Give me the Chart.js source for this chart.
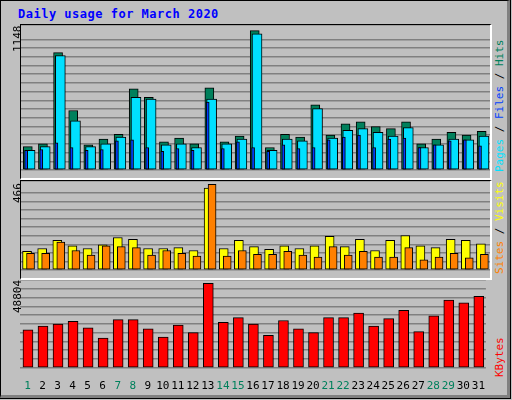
<!DOCTYPE html>
<html>
<head>
<meta charset="utf-8">
<script src="https://cdn.jsdelivr.net/npm/chart.js@4.4.1/dist/chart.umd.min.js"></script>
<style>
  body { margin: 0; width: 512px; height: 400px; background: #c0c0c0; position: relative; overflow: hidden; font-family: "DejaVu Sans Mono", monospace; }
  #frame { position: absolute; left: 0; top: 0; width: 506px; height: 394px; border: 1px solid #000; border-right: 3px solid #808080; border-bottom: 3px solid #808080; outline: 1px solid #000; }
  .panel { position: absolute; left: 20px; width: 469px; border-top: 1px solid #000; border-left: 1px solid #000; border-right: 2px solid #fff; border-bottom: 2px solid #fff; }
  .panel canvas { display: block; }
  .rot { position: absolute; transform: rotate(-90deg); transform-origin: left top; white-space: nowrap; font-size: 11px; }
  #title { position: absolute; left: 18px; top: 7px; color: #0000ff; font-weight: bold; font-size: 12px; letter-spacing: 0.5px; }
</style>
</head>
<body>
<div id="frame"></div>
<div id="title">Daily usage for March 2020</div>

<div class="panel" style="top:24px;height:153px"><canvas id="c1" width="469" height="153"></canvas></div>
<div class="panel" style="top:180px;height:97px"><canvas id="c2" width="469" height="97"></canvas></div>
<div class="panel" style="top:280px;height:117px;border:none"><canvas id="c3" width="469" height="117"></canvas></div>

<div class="rot" style="left:11px;top:52px">1148</div>
<div class="rot" style="left:11px;top:203px">466</div>
<div class="rot" style="left:11px;top:313px">48804</div>
<div class="rot" style="left:493px;top:172px"><span style="color:#00e0ff">Pages</span> / <span style="color:#0040ff">Files</span> / <span style="color:#00805c">Hits</span></div>
<div class="rot" style="left:493px;top:274px"><span style="color:#ff8000">Sites</span> / <span style="color:#ffff00">Visits</span></div>
<div class="rot" style="left:493px;top:377px"><span style="color:#ff0000">KBytes</span></div>

<script>
// valores
const dias = Array.from({length: 31}, (_, k) => k + 1);
const fimDeSemana = [1, 7, 8, 14, 15, 21, 22, 28, 29];

const hits  = [193,216,966,490,208,255,294,669,599,232,263,216,677,232,279,1148,185,294,271,536,287,380,396,357,341,396,216,255,310,287,318];
const files = [162,193,943,404,193,216,271,599,583,208,216,185,583,216,255,1122,162,255,240,505,263,326,341,310,279,349,185,208,255,248,279];
const pages = [162,169,224,185,162,169,240,248,185,154,177,162,560,177,232,185,154,208,177,185,248,271,287,185,255,263,185,208,240,248,200];

const visits = [101,117,162,132,117,137,177,167,117,117,122,106,446,117,162,127,112,132,117,132,183,127,167,106,162,188,132,122,167,162,142];
const sites  = [91,91,152,106,81,132,127,122,81,106,91,76,466,76,106,86,86,101,81,71,127,81,101,71,71,122,56,71,91,66,86];

const kbytes = [21990,24140,25210,26820,23060,17160,27890,27890,22530,17700,24670,20380,48804,26280,28960,25210,18770,27350,22530,20380,28960,28960,31640,24140,28430,33250,20920,30030,39150,37540,41300];

const maxTopo = 1148, maxMeio = 466, maxKb = 48804;

// order maior = desenhado primeiro (atrás)
function serie(valores, desloc, cor, largura, label, ordem) {
    return {
        label: label,
        order: ordem,
        data: valores.map((v, k) => ({x: dias[k] + desloc, y: v})),
        backgroundColor: cor,
        borderColor: '#000',
        borderWidth: 1,
        borderSkipped: false,
        barThickness: largura,
        grouped: false
    };
}

function opcoes(max, passos, comTicks) {
    return {
        animation: false,
        responsive: false,
        plugins: { legend: { display: false }, tooltip: { enabled: false } },
        layout: { padding: 0 },
        scales: {
            x: {
                type: 'linear', min: 0.5, max: 31.5, offset: false,
                grid: { display: false },
                border: { display: false },
                afterBuildTicks: s => { s.ticks = dias.map(d => ({value: d})); },
                ticks: {
                    display: comTicks,
                    autoSkip: false, maxRotation: 0, padding: 4,
                    font: { family: 'DejaVu Sans Mono', size: 11 },
                    color: ctx => fimDeSemana.includes(ctx.tick.value) ? '#00805c' : '#000',
                    callback: v => String(v)
                }
            },
            y: {
                min: 0, max: max * 1.04,
                grid: { color: '#808080', lineWidth: 1.5, drawTicks: false },
                border: { display: false },
                ticks: { display: false, stepSize: max / passos }
            }
        }
    };
}

new Chart(document.getElementById('c1'), {
    type: 'bar',
    data: { datasets: [
        serie(hits, -0.05, '#00805c', 9, 'Hits', 3),
        serie(files, 0.1, '#00e0ff', 10, 'Files', 2),
        serie(pages, -0.16, '#0040ff', 3, 'Pages', 1)
    ] },
    options: opcoes(maxTopo, 16, false)
});

new Chart(document.getElementById('c2'), {
    type: 'bar',
    data: { datasets: [
        serie(visits, -0.1, '#ffff00', 9, 'Visits', 2),
        serie(sites, 0.13, '#ff8000', 8, 'Sites', 1)
    ] },
    options: opcoes(maxMeio, 10, false)
});

new Chart(document.getElementById('c3'), {
    type: 'bar',
    data: { datasets: [ serie(kbytes, 0.03, '#ff0000', 10, 'KBytes', 1) ] },
    options: opcoes(maxKb, 10, true)
});
</script>
</body>
</html>
